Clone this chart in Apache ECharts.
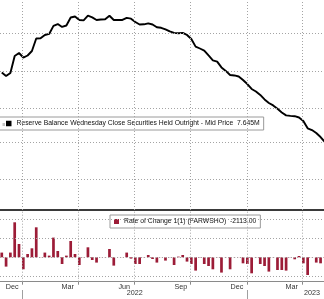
<!DOCTYPE html>
<html><head><meta charset="utf-8">
<style>html,body{margin:0;padding:0;background:#fff}#c{width:324px;height:299px}</style>
<script src="https://cdn.jsdelivr.net/npm/echarts@6/dist/echarts.min.js"></script>
</head><body><div id="c"></div>
<script>
const DAY = 86400000;
const WEEK = 7 * DAY;
const firstWeek = Date.UTC(2021, 10, 28);
const xMin = Date.UTC(2021, 10, 25, 3);
const xMax = Date.UTC(2023, 4, 5, 14);

const LINE_NAME = 'Reserve Balance Wednesday Close Securities Held Outright - Mid Price';
const BAR_NAME = 'Rate of Change 1(1) (FARWSHO)';
const lineLegendValue = '7.645M';
const barLegendValue = '-2113.00';

// Securities held outright, trillions (weekly)
const lineValues = [
  8.122, 8.098, 8.119, 8.236, 8.256, 8.225, 8.239, 8.270, 8.356, 8.357,
  8.380, 8.387, 8.442, 8.455, 8.435, 8.445, 8.500, 8.507, 8.483, 8.480,
  8.512, 8.501, 8.483, 8.486, 8.488, 8.512, 8.483, 8.483, 8.483, 8.497,
  8.492, 8.469, 8.452, 8.453, 8.460, 8.452, 8.433, 8.429, 8.418, 8.404,
  8.394, 8.392, 8.394, 8.380, 8.352, 8.300, 8.287, 8.273, 8.239, 8.206,
  8.197, 8.157, 8.133, 8.105, 8.102, 8.095, 8.071, 8.043, 8.009, 7.992,
  7.968, 7.937, 7.913, 7.896, 7.873, 7.848, 7.828, 7.824, 7.822, 7.813,
  7.789, 7.739, 7.727, 7.707, 7.679, 7.645
];

// Weekly change, millions
const barValues = [
  12300, -24300, 12300, 91400, 34700, -31300, 8600, 23500, 78300, 500,
  12300, 4400, 51400, 16400, -17500, 4400, 42600, 8600, -20100, -600,
  26100, -7000, -13800, 300, -400, 21700, -21700, 200, -300, 12300,
  -3400, -17500, -17500, 600, 6000, -4400, -13800, 300, -8600, -500,
  -20100, 1800, 6000, -11200, -17500, -34700, -800, -17500, -22700, -31300,
  -600, -39900, -500, -31300, 400, -300, -15700, -17500, -41800, -700,
  -17500, -22700, -37300, -500, -33200, -33200, -34700, -600, -5200, 3400,
  -15700, -46200, -400, -13800, -15700, -2113
];

const weekDates = lineValues.map((_, i) => firstWeek + i * WEEK);

const topGridValues = [8.387, 8.135, 7.883, 7.640, 7.389];
const bottomGridValues = [100000, 50000, 0, -50000];
const quarterDates = [Date.UTC(2022,0,1), Date.UTC(2022,3,1), Date.UTC(2022,6,1), Date.UTC(2022,9,1), Date.UTC(2023,0,1), Date.UTC(2023,3,1)];
const monthLabelDates = [Date.UTC(2021,11,15), Date.UTC(2022,2,15), Date.UTC(2022,5,15), Date.UTC(2022,8,15), Date.UTC(2022,11,15), Date.UTC(2023,2,14)];
const monthLabels = ['Dec', 'Mar', 'Jun', 'Sep', 'Dec', 'Mar'];
const yearTickDates = [Date.UTC(2022,0,1), Date.UTC(2023,0,1)];
const yearLabelDates = [Date.UTC(2022,6,2), Date.UTC(2023,3,16)];
const yearLabels = ['2022', '2023'];

const FONT = 'Liberation Sans';
const gridStyle = { color: '#a4a4a4', width: 1, type: [1, 2] };

function gridMarkLine(xVals, yVals) {
  return {
    silent: true, symbol: 'none', animation: false,
    label: { show: false },
    lineStyle: gridStyle,
    emphasis: { disabled: true },
    data: xVals.map(d => ({ xAxis: d })).concat(yVals.map(v => ({ yAxis: v })))
  };
}

function lookup(dates, labels) {
  return v => { const i = dates.findIndex(d => Math.abs(d - v) < DAY / 2); return i >= 0 ? labels[i] : ''; };
}

const option = {
  animation: false,
  backgroundColor: '#fff',
  textStyle: { fontFamily: FONT },
  grid: [
    { left: 0, right: 0, top: 0, height: 210 },
    { left: 0, right: 0, top: 210, height: 71.7 }
  ],
  xAxis: [
    { type: 'value', gridIndex: 0, min: xMin, max: xMax, show: false, splitLine: { show: false } },
    { type: 'value', gridIndex: 1, min: xMin, max: xMax, position: 'bottom',
      axisLine: { show: true, onZero: false, lineStyle: { color: '#8a8a8a', width: 1 } },
      axisTick: { show: true, customValues: quarterDates, length: 3, lineStyle: { color: '#8a8a8a' } },
      splitLine: { show: false },
      axisLabel: { show: true, customValues: monthLabelDates, margin: 2, fontSize: 7.2, color: '#333', fontFamily: FONT,
        formatter: lookup(monthLabelDates, monthLabels) } },
    { type: 'value', gridIndex: 1, min: xMin, max: xMax, position: 'top',
      axisLine: { show: true, onZero: false, lineStyle: { color: '#3a3a3a', width: 2 } },
      axisTick: { show: false }, axisLabel: { show: false }, splitLine: { show: false } },
    { type: 'value', gridIndex: 1, min: xMin, max: xMax, position: 'bottom', offset: 8.3,
      axisLine: { show: false, onZero: false },
      axisTick: { show: true, customValues: yearTickDates, length: 10, lineStyle: { color: '#a0a0a0' } },
      splitLine: { show: false },
      axisLabel: { show: true, customValues: yearLabelDates, margin: 0, fontSize: 7.2, color: '#333', fontFamily: FONT,
        formatter: lookup(yearLabelDates, yearLabels) } }
  ],
  yAxis: [
    { type: 'value', gridIndex: 0, min: 7.178, max: 8.620, show: false, splitLine: { show: false } },
    { type: 'value', gridIndex: 1, min: -63700, max: 123500, show: false, splitLine: { show: false } }
  ],
  legend: [
    { data: [LINE_NAME], left: -1, top: 117, icon: 'rect', itemWidth: 5.5, itemHeight: 5.5,
      padding: [3, 4, 3, 7], backgroundColor: '#fff', borderColor: '#9a9a9a', borderWidth: 1,
      selectedMode: false, textStyle: { fontSize: 6.8, color: '#111', fontFamily: FONT },
      formatter: n => n + '  ' + lineLegendValue },
    { data: [BAR_NAME], left: 110, top: 215, icon: 'rect', itemWidth: 5, itemHeight: 5,
      padding: [3, 4, 3, 4], backgroundColor: '#fff', borderColor: '#9a9a9a', borderWidth: 1,
      selectedMode: false, textStyle: { fontSize: 6.8, color: '#111', fontFamily: FONT },
      formatter: n => n + '  ' + barLegendValue }
  ],
  graphic: [
    { type: 'rect', left: 2.5, top: 123, shape: { width: 2.5, height: 3 }, style: { fill: '#c4c4c4' }, z: 100 }
  ],
  series: [
    { name: LINE_NAME, type: 'line', xAxisIndex: 0, yAxisIndex: 0, showSymbol: false, symbol: 'none',
      lineStyle: { color: '#000', width: 1.9 }, itemStyle: { color: '#000' }, z: 3,
      data: weekDates.map((d, i) => [d, lineValues[i]]),
      markLine: gridMarkLine(quarterDates, topGridValues) },
    { name: 'gridHelper', type: 'line', xAxisIndex: 1, yAxisIndex: 1, showSymbol: false, symbol: 'none',
      silent: true, lineStyle: { opacity: 0 }, z: 1,
      data: weekDates.map(d => [d, 0]),
      markLine: gridMarkLine(quarterDates, bottomGridValues) },
    { name: BAR_NAME, type: 'bar', xAxisIndex: 1, yAxisIndex: 1, barWidth: 2.7, z: 3,
      itemStyle: { color: '#9c1c37' },
      data: weekDates.map((d, i) => [d, barValues[i]]) }
  ]
};

const chart = echarts.init(document.getElementById('c'), null, { renderer: 'canvas' });
chart.setOption(option);
</script></body></html>
